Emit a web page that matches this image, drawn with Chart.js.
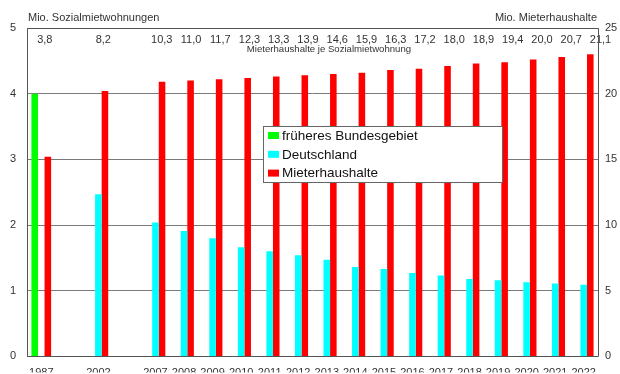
<!DOCTYPE html>
<html>
<head>
<meta charset="utf-8">
<script src="https://cdn.jsdelivr.net/npm/chart.js@4.4.1/dist/chart.umd.min.js"></script>
<style>
  html, body { margin: 0; padding: 0; background: #fff; }
  #wrap { width: 620px; height: 374px; position: relative; }
</style>
</head>
<body>
<div id="wrap"><canvas id="c" width="620" height="374"></canvas></div>
<script>
// Jahre (leere Einträge = Lücken in der Zeitachse)
const years = ['1987', '', '2002', '', '2007', '2008', '2009', '2010', '2011', '2012', '2013',
               '2014', '2015', '2016', '2017', '2018', '2019', '2020', '2021', '2022'];

// Sozialmietwohnungen in Mio. (linke Achse)
const frueheresBundesgebiet = [4.0, null, null, null, null, null, null, null, null, null, null,
                               null, null, null, null, null, null, null, null, null];
const deutschland = [null, null, 2.47, null, 2.04, 1.91, 1.80, 1.66, 1.60, 1.54, 1.47,
                     1.36, 1.33, 1.27, 1.23, 1.18, 1.16, 1.13, 1.11, 1.09];

// Mieterhaushalte in Mio. (rechte Achse)
const mieterhaushalte = [15.2, null, 20.2, null, 20.9, 21.0, 21.1, 21.2, 21.3, 21.4, 21.5,
                         21.6, 21.8, 21.9, 22.1, 22.3, 22.4, 22.6, 22.8, 23.0];

// Mieterhaushalte je Sozialmietwohnung
const haushalteJeWohnung = ['3,8', null, '8,2', null, '10,3', '11,0', '11,7', '12,3', '13,3', '13,9', '14,6',
                            '15,9', '16,3', '17,2', '18,0', '18,9', '19,4', '20,0', '20,7', '21,1'];

const leftTicks = [0, 1, 2, 3, 4, 5];
const rightTicks = [0, 5, 10, 15, 20, 25];

const FONT = '"Liberation Sans", Arial, sans-serif';
const TEXT = '#333333';

// Achsentitel, Verhältniszeile und Legende
const annotations = {
  id: 'annotations',
  afterDatasetsDraw(chart) {
    const { ctx, chartArea: a, scales } = chart;
    ctx.save();
    ctx.fillStyle = TEXT;
    ctx.font = '11px ' + FONT;
    ctx.textBaseline = 'alphabetic';
    ctx.textAlign = 'left';
    ctx.fillText('Mio. Sozialmietwohnungen', a.left + 1, a.top - 7);
    ctx.textAlign = 'right';
    ctx.fillText('Mio. Mieterhaushalte', a.right - 1, a.top - 7);

    // Verhältniszahlen oberhalb der Balken
    ctx.textAlign = 'center';
    ctx.textBaseline = 'middle';
    const ref = scales.x.getPixelForValue(4);
    haushalteJeWohnung.forEach((t, i) => {
      if (t === null) return;
      const cx = scales.x.getPixelForValue(i);
      ctx.fillText(t, cx + (cx - ref) * 0.0245 + 6.3, a.top + 12);
    });
    ctx.font = '9.6px ' + FONT;
    ctx.fillText('Mieterhaushalte je Sozialmietwohnung', 329, a.top + 21.5);

    // Legende
    const bx = 263.5, by = 126.5, bw = 239, bh = 56;
    ctx.fillStyle = '#ffffff';
    ctx.fillRect(bx, by, bw, bh);
    ctx.strokeStyle = '#666666';
    ctx.lineWidth = 1;
    ctx.strokeRect(bx, by, bw, bh);
    ctx.font = '13.5px ' + FONT;
    ctx.textAlign = 'left';
    ctx.textBaseline = 'middle';
    chart.data.datasets.forEach((ds, i) => {
      const y = 135.5 + i * 18.8;
      ctx.fillStyle = ds.backgroundColor;
      ctx.fillRect(268, y - 3.5, 11, 7);
      ctx.fillStyle = '#111111';
      ctx.fillText(ds.label, 282, y + 0.5);
    });
    ctx.restore();
  }
};

// Rahmen um die Zeichenfläche
const frame = {
  id: 'frame',
  afterDraw(chart) {
    const { ctx, chartArea: a } = chart;
    ctx.save();
    ctx.strokeStyle = '#555555';
    ctx.lineWidth = 1;
    ctx.beginPath();
    ctx.moveTo(Math.round(a.left) + 0.5, Math.round(a.top) + 0.5);
    ctx.lineTo(Math.round(a.right) + 0.5, Math.round(a.top) + 0.5);
    ctx.lineTo(Math.round(a.right) + 0.5, Math.round(a.bottom) + 0.5);
    ctx.lineTo(Math.round(a.left) + 0.5, Math.round(a.bottom) + 0.5);
    ctx.closePath();
    ctx.stroke();
    ctx.restore();
  }
};

new Chart(document.getElementById('c'), {
  type: 'bar',
  data: {
    labels: years,
    datasets: [
      { label: 'früheres Bundesgebiet', data: frueheresBundesgebiet, backgroundColor: '#00ff00', yAxisID: 'y' },
      { label: 'Deutschland', data: deutschland, backgroundColor: '#00ffff', yAxisID: 'y' },
      { label: 'Mieterhaushalte', data: mieterhaushalte, backgroundColor: '#ff0000', yAxisID: 'y1' }
    ]
  },
  options: {
    responsive: false,
    animation: false,
    devicePixelRatio: 1,
    layout: { padding: { top: 28, left: 0, right: 0, bottom: 0 } },
    datasets: { bar: { categoryPercentage: 0.69, barPercentage: 1.0 } },
    plugins: {
      legend: { display: false },
      tooltip: { enabled: false }
    },
    scales: {
      x: {
        grid: { display: false },
        border: { display: false },
        ticks: { color: TEXT, font: { family: FONT, size: 11 }, maxRotation: 0, autoSkip: false, padding: 2 },
        afterFit(s) { s.height = 16; }
      },
      y: {
        position: 'left',
        min: 0, max: 5,
        afterBuildTicks(s) { s.ticks = leftTicks.map(v => ({ value: v })); },
        grid: { color: '#7a7a7a', drawTicks: false, lineWidth: 1 },
        border: { display: false },
        ticks: { color: TEXT, font: { family: FONT, size: 11 }, padding: 11 },
        afterFit(s) { s.width = 27; }
      },
      y1: {
        position: 'right',
        min: 0, max: 25,
        afterBuildTicks(s) { s.ticks = rightTicks.map(v => ({ value: v })); },
        grid: { display: false, drawTicks: false },
        border: { display: false },
        ticks: { color: TEXT, font: { family: FONT, size: 11 }, padding: 7 },
        afterFit(s) { s.width = 22; }
      }
    }
  },
  plugins: [annotations, frame]
});
</script>
</body>
</html>
